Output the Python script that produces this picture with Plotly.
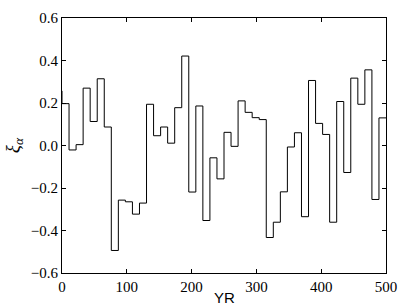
import numpy as np
import plotly.graph_objects as go

# step series: first value is the start point, then one value per bin
xi_alpha = [0.257,
            0.197, -0.021, 0.004, 0.270, 0.113, 0.314, 0.087, -0.494, -0.257, -0.265,
            -0.323, -0.271, 0.194, 0.046, 0.087, 0.011, 0.178, 0.421, -0.219, 0.186,
            -0.353, -0.058, -0.157, 0.062, -0.004, 0.210, 0.156, 0.131, 0.122, -0.433,
            -0.361, -0.218, -0.007, 0.060, -0.335, 0.306, 0.104, 0.052, -0.361, 0.207,
            -0.127, 0.317, 0.194, 0.356, -0.254, 0.130]
years = np.linspace(0, 500, len(xi_alpha))

x_ticks = [0, 100, 200, 300, 400, 500]
y_ticks = [-0.6, -0.4, -0.2, 0.0, 0.2, 0.4, 0.6]
y_labels = ["\u22120.6", "\u22120.4", "\u22120.2", "0.0", "0.2", "0.4", "0.6"]

fig = go.Figure()
fig.add_trace(go.Scatter(
    x=years, y=xi_alpha,
    mode="lines",
    line=dict(color="black", width=1, shape="vh"),
    showlegend=False
))

axis_style = dict(
    showgrid=False, zeroline=False,
    showline=True, linecolor="black", linewidth=1, mirror="allticks",
    ticks="inside", ticklen=4, tickcolor="black", tickwidth=1,
    ticklabeloverflow="allow",
    tickfont=dict(family="Liberation Serif", size=15, color="black"),
)

fig.update_xaxes(range=[0, 500], tickvals=x_ticks,
                 ticktext=[str(t) for t in x_ticks], **axis_style)
fig.update_yaxes(range=[-0.6, 0.6], tickvals=y_ticks, ticktext=y_labels, **axis_style)

fig.add_annotation(text="YR", xref="paper", yref="paper", x=0.5, y=-0.055,
                   xanchor="center", yanchor="top", showarrow=False,
                   font=dict(family="Liberation Sans", size=15, color="black"))
fig.add_annotation(text="<i>\u03be<sub>\u03b1</sub></i>", xref="paper", yref="paper",
                   x=-0.149, y=0.5, xanchor="center", yanchor="middle",
                   textangle=-90, showarrow=False,
                   font=dict(family="Liberation Serif", size=19, color="black"))

fig.update_layout(
    width=407, height=305,
    margin=dict(l=62, r=10, t=11, b=31),
    paper_bgcolor="white", plot_bgcolor="white",
)

# drop the default 8px body margin so the figure sits at the page corner
fig.write_html("out.html", config={"displayModeBar": False},
               post_script="document.body.style.margin='0';")
